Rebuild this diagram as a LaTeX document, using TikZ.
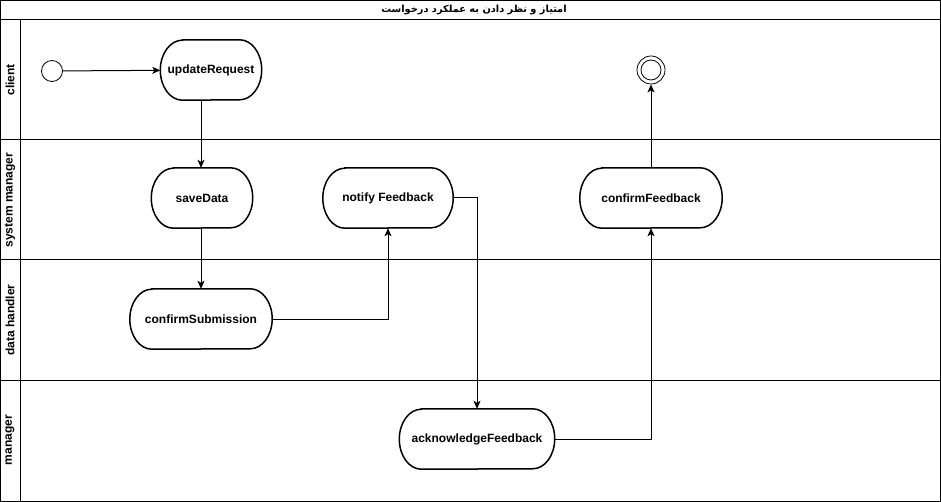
\documentclass[tikz,border=0pt]{standalone}
\usepackage{fontspec}
\setmainfont{Liberation Sans}
\newfontfamily\arabicfont[Script=Arabic]{DejaVu Sans}
\TeXXeTstate=1
\usetikzlibrary{positioning,arrows.meta}

\begin{document}
\begin{tikzpicture}[x=1pt, y=-1pt, >={Stealth[length=8pt,width=7pt,inset=2pt]},
      font=\fontsize{12}{14}\selectfont\bfseries,
      act/.style={align=center, minimum height=60pt, inner sep=0pt},
      actline/.style={line width=1.5pt},
      lane/.style={rotate=90, anchor=center},
      flow/.style={->, line width=1pt}]
    \useasboundingbox (0,0) rectangle (941,502);

    % pool frame and lanes
    \draw[line width=1pt] (0.5,0.5) rectangle (940.5,501.5);
    \draw[line width=1pt] (0.5,20) -- (940.5,20);
    \draw[line width=1pt] (20,20) -- (20,501.5);
    \draw[line width=1pt] (0.5,140) -- (940.5,140);
    \draw[line width=1pt] (0.5,260) -- (940.5,260);
    \draw[line width=1pt] (0.5,380) -- (940.5,380);
    \node (title) at (474,10) {\arabicfont\fontsize{9.8}{12}\selectfont\bfseries\beginR امتیاز و نظر دادن به عملکرد درخواست\endR};
    \node[lane] (lclient) at (10,80)  {client};
    \node[lane] (lsys)    at (10,200) {system manager};
    \node[lane] (ldata)   at (10,320) {data handler};
    \node[lane] (lman)    at (10,440) {manager};

    % activities
    \node[draw, circle, line width=0.8pt, minimum size=21pt, inner sep=0pt] (start) at (52,71) {};
    \node[act, minimum width=101pt] (upd)  at (211,70)  {updateRequest};
    \node[act, minimum width=101pt] (save) at (202,198) {saveData};
    \node[act, minimum width=130pt] (notf) at (388,198) {notify Feedback};
    \node[act, minimum width=142pt] (conf) at (651,198) {confirmFeedback};
    \node[act, minimum width=142pt] (subm) at (201,319) {confirmSubmission};
    \node[act, minimum width=155pt] (ack)  at (477,439) {acknowledgeFeedback};
    \node[draw, circle, line width=0.8pt, minimum size=28pt, inner sep=0pt] (stop) at (651,70) {};
    \node[draw, circle, line width=0.8pt, minimum size=20pt, inner sep=0pt] (stopin) at (stop) {};

    \foreach \n in {upd,save,notf,conf,subm,ack}
      \draw[actline] ([xshift=22pt]\n.north west) -- ([xshift=-22pt]\n.north east)
        arc[start angle=90, end angle=-90, x radius=22pt, y radius=30pt]
        -- ([xshift=22pt]\n.south west)
        arc[start angle=270, end angle=90, x radius=22pt, y radius=30pt] -- cycle;

    \draw[flow] (start) -- (upd);
    \draw[flow] (upd.south -| subm.north) -- (save.north -| subm.north);
    \draw[flow] (save.south -| subm.north) -- (subm.north);
    \draw[flow] (subm.east) -| (notf.south);
    \draw[flow] (notf.east) -| (ack.north);
    \draw[flow] (ack.east) -| (conf.south);
    \draw[flow] (conf) -- (stop);
  \end{tikzpicture}
\end{document}
